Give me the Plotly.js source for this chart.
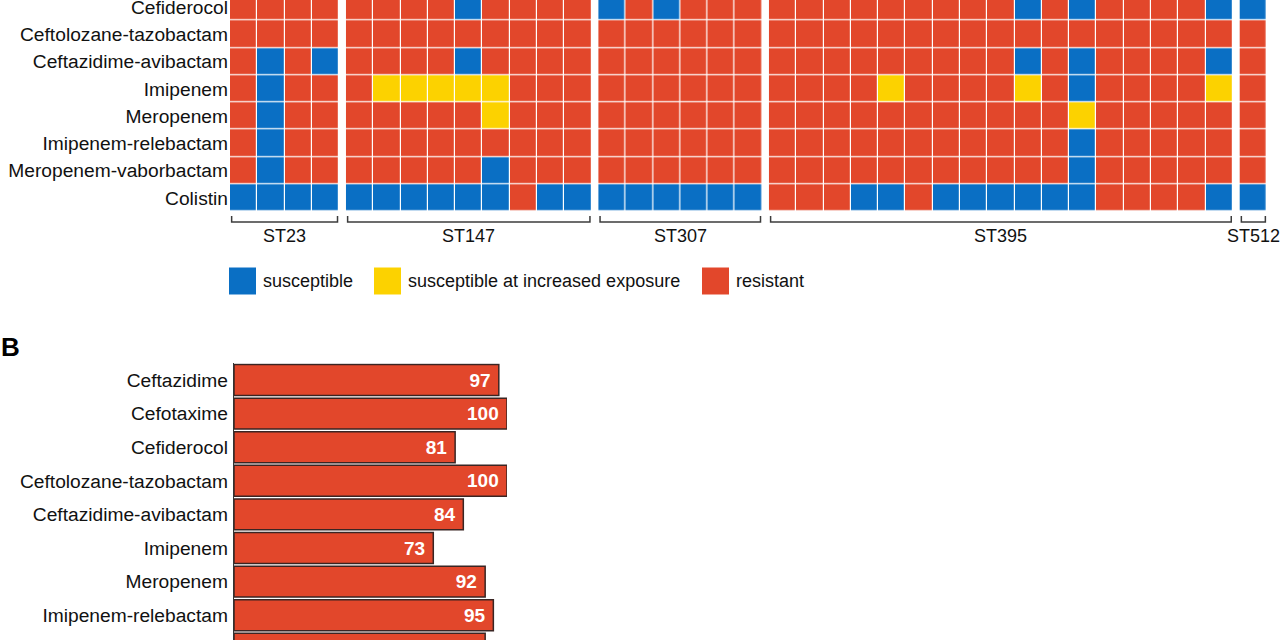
<!DOCTYPE html>
<html>
<head>
<meta charset="utf-8">
<script src="https://cdn.plot.ly/plotly-3.0.1.min.js"></script>
<style>html,body{margin:0;padding:0;background:#fff;}#chart{width:1280px;height:640px;}</style>
</head>
<body>
<div id="chart"></div>
<script>
// ---------- DATA ----------
const groups = ['ST23', 'ST147', 'ST307', 'ST395', 'ST512'];
const groupSizes = [4, 9, 6, 17, 1];
const heatDrugs = ['Cefiderocol', 'Ceftolozane-tazobactam', 'Ceftazidime-avibactam', 'Imipenem',
  'Meropenem', 'Imipenem-relebactam', 'Meropenem-vaborbactam', 'Colistin'];
// S = susceptible, I = susceptible at increased exposure, R = resistant (groups separated by spaces)
const cefiderocol  = 'RRRR RRRRSRRRR SRSRRR RRRRRRRRRSRSRRRRS S';
const ceftolozane  = 'RRRR RRRRRRRRR RRRRRR RRRRRRRRRRRRRRRRR R';
const ceftazAvi    = 'RSRS RRRRSRRRR RRRRRR RRRRRRRRRSRSRRRRS R';
const imipenem     = 'RSRR RIIIIIRRR RRRRRR RRRRIRRRRIRSRRRRI R';
const meropenem    = 'RSRR RRRRRIRRR RRRRRR RRRRRRRRRRRIRRRRR R';
const imiRele      = 'RSRR RRRRRRRRR RRRRRR RRRRRRRRRRRSRRRRR R';
const meroVabor    = 'RSRR RRRRRSRRR RRRRRR RRRRRRRRRRRSRRRRR R';
const colistin     = 'SSSS SSSSSSRSS SSSSSS RRRSSRSSSSSSRRRRS S';
const heatRows = [cefiderocol, ceftolozane, ceftazAvi, imipenem, meropenem, imiRele, meroVabor, colistin];
const categories = ['susceptible', 'susceptible at increased exposure', 'resistant'];
const catColors = ['#0a6fc4', '#fcd200', '#e2472b'];

const barDrugs = ['Ceftazidime', 'Cefotaxime', 'Cefiderocol', 'Ceftolozane-tazobactam',
  'Ceftazidime-avibactam', 'Imipenem', 'Meropenem', 'Imipenem-relebactam', 'Meropenem-vaborbactam'];
const barValues = [97, 100, 81, 100, 84, 73, 92, 95, 92];

// ---------- BUILD ----------
const FONT = 'Liberation Sans, Arial, Helvetica, sans-serif';
const code = {S: 0, I: 1, R: 2};
const GAP = 0.25;
const W = 1280, H = 640;
const starts = [];
let acc = 0;
groupSizes.forEach((n, g) => { starts.push(acc); acc += n + GAP; });
const totalX = acc - GAP;

const traces = [];
groups.forEach((gName, g) => {
  const z = heatRows.map(r => r.split(' ')[g].split('').map(c => code[c]));
  traces.push({
    type: 'heatmap', xaxis: 'x', yaxis: 'y',
    z: z, x0: starts[g] + 0.5, dx: 1, y: heatDrugs,
    zmin: 0, zmax: 2,
    colorscale: [[0, catColors[0]], [0.5, catColors[1]], [1, catColors[2]]],
    showscale: false, xgap: 1.2, ygap: 1.2, hoverinfo: 'x+y+z', name: gName
  });
});

traces.push({
  type: 'bar', orientation: 'h', xaxis: 'x2', yaxis: 'y2',
  x: barValues, y: barDrugs,
  marker: {color: '#e2472b', line: {color: '#3a2523', width: 1.5}},
  text: barValues.map(v => v + '\u00a0'), textposition: 'inside', insidetextanchor: 'end',
  textfont: {family: FONT, size: 19, color: '#ffffff', weight: 'bold'},
  cliponaxis: true, hoverinfo: 'x+y'
});

// pixel helpers for layout
const px = v => v / W;
const py = v => 1 - v / H;

const shapes = [];
const annotations = [];
// group brackets
groups.forEach((gName, g) => {
  const x0 = starts[g] + 0.06, x1 = starts[g] + groupSizes[g] - 0.06;
  shapes.push({type: 'path', xref: 'x', yref: 'paper',
    path: `M ${x0},${py(216)} L ${x0},${py(222)} L ${x1},${py(222)} L ${x1},${py(216)}`,
    line: {color: '#3c3c3c', width: 1.5}});
  annotations.push({xref: 'x', yref: 'paper', x: starts[g] + groupSizes[g] / 2, y: py(236),
    text: gName, showarrow: false, xanchor: 'center', yanchor: 'middle',
    font: {family: FONT, size: 18, color: '#111'}});
});
// legend
const legX = [229, 374, 702];
categories.forEach((c, i) => {
  shapes.push({type: 'rect', xref: 'paper', yref: 'paper',
    x0: px(legX[i]), x1: px(legX[i] + 27), y0: py(294.5), y1: py(267.5),
    fillcolor: catColors[i], line: {width: 0}});
  annotations.push({xref: 'paper', yref: 'paper', x: px(legX[i] + 32), y: py(281),
    text: c, showarrow: false, xanchor: 'left', yanchor: 'middle',
    font: {family: FONT, size: 18, color: '#111'}});
});
// panel letter
annotations.push({xref: 'paper', yref: 'paper', x: px(-1.5), y: py(347), text: '<b>B</b>',
  showarrow: false, xanchor: 'left', yanchor: 'middle',
  font: {family: FONT, size: 26, color: '#000'}});

const barRow = 33.6;
const barTop = 380 - barRow / 2;
const barBottomVal = -0.5 + (640 - barTop) / barRow;

const layout = {
  width: W, height: H,
  margin: {l: 0, r: 0, t: 0, b: 0, pad: 0},
  paper_bgcolor: '#ffffff', plot_bgcolor: 'rgba(0,0,0,0)',
  font: {family: FONT, size: 19, color: '#111'},
  showlegend: false,
  xaxis: {domain: [px(230), px(1267)], range: [0, totalX], visible: false, fixedrange: true},
  yaxis: {domain: [py(211.7), 1], type: 'category', range: [7.5, -0.255],
    showgrid: false, zeroline: false, showline: false, ticks: '',
    tickfont: {family: FONT, size: 19.2, color: '#111'}, ticklabelstandoff: 1},
  xaxis2: {domain: [px(234), px(507)], range: [0, 100], visible: false, anchor: 'y2'},
  yaxis2: {domain: [0, py(barTop)], anchor: 'x2', type: 'category',
    range: [barBottomVal, -0.5], showgrid: false, zeroline: false,
    showline: true, linecolor: '#333', linewidth: 1.2, ticks: '',
    tickfont: {family: FONT, size: 19.2, color: '#111'}, ticklabelstandoff: 1},
  bargap: 0.08,
  shapes: shapes,
  annotations: annotations
};

Plotly.newPlot('chart', traces, layout, {staticPlot: true, displayModeBar: false});
</script>
</body>
</html>
